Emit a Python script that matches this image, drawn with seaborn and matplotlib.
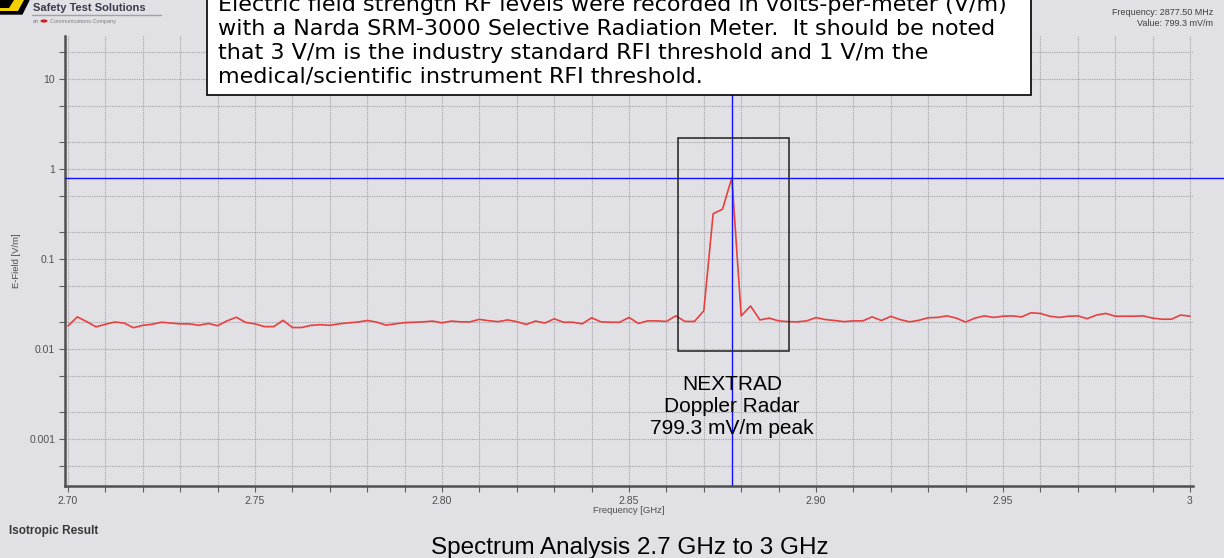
import matplotlib
matplotlib.use("Agg")
import matplotlib.pyplot as plt
import numpy as np
import pandas as pd
import seaborn as sns
from matplotlib.patches import Circle, Polygon, Rectangle
from matplotlib.ticker import FixedLocator, LogLocator, NullFormatter
from matplotlib.transforms import blended_transform_factory

# Sweep bins of the meter: 2700-3000 MHz, 2.5 MHz resolution (121 bins)
freq_ghz = np.arange(2700, 3000.1, 2.5) / 1000

# Isotropic E-field per bin [V/m]
efield_vm = [
    0.0180, 0.0227, 0.0201, 0.0176, 0.0188, 0.0199, 0.0194, 0.0172, 0.0183, 0.0188,
    0.0198, 0.0194, 0.0190, 0.0190, 0.0183, 0.0192, 0.0181, 0.0205, 0.0225, 0.0197,
    0.0190, 0.0177, 0.0177, 0.0208, 0.0173, 0.0173, 0.0183, 0.0186, 0.0183, 0.0190,
    0.0195, 0.0199, 0.0207, 0.0199, 0.0184, 0.0190, 0.0196, 0.0198, 0.0200, 0.0204,
    0.0195, 0.0204, 0.0200, 0.0200, 0.0213, 0.0206, 0.0201, 0.0210, 0.0201, 0.0187,
    0.0204, 0.0194, 0.0216, 0.0198, 0.0198, 0.0190, 0.0222, 0.0200, 0.0198, 0.0198,
    0.0224, 0.0192, 0.0205, 0.0205, 0.0202, 0.0233, 0.0202, 0.0202, 0.0265, 0.3180,
    0.3570, 0.7993, 0.0233, 0.0300, 0.0210, 0.0220, 0.0205, 0.0201, 0.0200, 0.0205,
    0.0223, 0.0212, 0.0207, 0.0201, 0.0205, 0.0205, 0.0227, 0.0207, 0.0230, 0.0212,
    0.0200, 0.0208, 0.0222, 0.0224, 0.0233, 0.0220, 0.0199, 0.0220, 0.0233, 0.0224,
    0.0231, 0.0233, 0.0227, 0.0252, 0.0248, 0.0231, 0.0224, 0.0231, 0.0233, 0.0217,
    0.0238, 0.0248, 0.0231, 0.0231, 0.0231, 0.0233, 0.0220, 0.0214, 0.0214, 0.0238,
    0.0231,
]

peak_freq_ghz = 2.8775
peak_value_vm = 0.7993

x_major = [2.70, 2.75, 2.80, 2.85, 2.90, 2.95, 3.00]
x_major_labels = ["2.70", "2.75", "2.80", "2.85", "2.90", "2.95", "3"]
x_minor = np.arange(2.70, 3.0001, 0.01)
y_major = [0.001, 0.01, 0.1, 1, 10]
y_major_labels = ["0.001", "0.01", "0.1", "1", "10"]

note_lines = [
    "Electric field strength RF levels were recorded in volts-per-meter (V/m)",
    "with a Narda SRM-3000 Selective Radiation Meter.  It should be noted",
    "that 3 V/m is the industry standard RFI threshold and 1 V/m the",
    "medical/scientific instrument RFI threshold.",
]
peak_note = ["NEXTRAD", "Doppler Radar", "799.3 mV/m peak"]
readout_lines = ["Frequency: 2877.50 MHz", "Value: 799.3 mV/m"]

BG = "#e0e0e5"
W, H = 1224, 558

sns.set_theme(style="white", rc={"figure.facecolor": BG, "axes.facecolor": BG})
plt.rcParams["font.family"] = ["Liberation Sans", "DejaVu Sans"]


def fx(px):
    return px / W


def fy(py):
    return 1 - py / H


fig = plt.figure(figsize=(W / 100, H / 100), dpi=100)
ax = fig.add_axes([fx(65), fy(486), fx(1128), 450 / H])

df = pd.DataFrame({"freq": freq_ghz, "efield": efield_vm})
sns.lineplot(data=df, x="freq", y="efield", ax=ax, color="#e8403f", lw=1.2, zorder=3)

ax.set_yscale("log")
ax.set_ylim(3e-4, 30)
ax.set_xlim(2.6992, 3.0008)

ax.xaxis.set_major_locator(FixedLocator(x_major))
ax.set_xticklabels(x_major_labels)
ax.xaxis.set_minor_locator(FixedLocator(x_minor))
ax.yaxis.set_major_locator(FixedLocator(y_major))
ax.set_yticklabels(y_major_labels)
ax.yaxis.set_minor_locator(LogLocator(base=10, subs=(2, 5)))
ax.yaxis.set_minor_formatter(NullFormatter())

ax.grid(which="both", color="#a4a4a8", ls=(0, (1, 1)), lw=0.8, zorder=1)
ax.tick_params(which="both", direction="out", length=4, width=0.8, color="#606060",
               labelsize=7.5, labelcolor="#505050", pad=3)
ax.tick_params(axis="x", which="both", bottom=True)
ax.tick_params(axis="y", which="both", left=True)

for side in ("top", "right"):
    ax.spines[side].set_visible(False)
for side in ("left", "bottom"):
    ax.spines[side].set_color("#505050")
    ax.spines[side].set_linewidth(1.8)

ax.set_xlabel("Frequency [GHz]", fontsize=6.8, color="#505050", labelpad=0)
ax.set_ylabel("E-Field [V/m]", fontsize=6.8, color="#505050", labelpad=6)

# cursor crosshair on the peak
ax.axvline(peak_freq_ghz, color="#1010ff", lw=1.0, zorder=4)
ax.axhline(peak_value_vm, xmin=0, xmax=(W - 65) / 1128, color="#1010ff", lw=1.0,
           zorder=4, clip_on=False)

# box around the radar emission
ax.add_patch(Rectangle((2.8631, 0.0095), 2.8928 - 2.8631, 2.21 - 0.0095,
                       fill=False, ec="#202020", lw=1.1, zorder=5))
label_tf = blended_transform_factory(ax.transData, fig.transFigure)
for i, line in enumerate(peak_note):
    ax.text(peak_freq_ghz, fy(384 + 22 * i), line, ha="center", va="center", fontsize=15,
            color="black", transform=label_tf, zorder=6)

# note box at the top
fig.add_artist(Rectangle((fx(207), fy(95)), fx(824), 120 / H, transform=fig.transFigure,
                         fc="white", ec="black", lw=1.2, zorder=10, clip_on=False))
for i, line in enumerate(note_lines):
    fig.text(fx(218), fy(11 + 24 * i), line, ha="left", va="baseline", fontsize=16,
             family=["DejaVu Sans"], color="black", zorder=11)

# readout at top right
for i, line in enumerate(readout_lines):
    fig.text(fx(1213), fy(15 + 11 * i), line, ha="right", va="baseline", fontsize=6.5,
             color="#404040")

# logo at top left
fig.add_artist(Polygon([(fx(0), fy(0)), (fx(29), fy(0)), (fx(22), fy(14)), (fx(0), fy(14))],
                       closed=True, fc="black", ec="black", transform=fig.transFigure))
fig.add_artist(Polygon([(fx(0), fy(0)), (fx(24), fy(0)), (fx(18), fy(11)), (fx(0), fy(11))],
                       closed=True, fc="#f4d000", ec="none", transform=fig.transFigure))
fig.add_artist(Polygon([(fx(0), fy(0)), (fx(14), fy(0)), (fx(9), fy(8)), (fx(0), fy(8))],
                       closed=True, fc="black", ec="none", transform=fig.transFigure))
fig.text(fx(33), fy(11), "Safety Test Solutions", ha="left", va="baseline", fontsize=8,
         weight="bold", color="#3a3a4a")
fig.add_artist(plt.Line2D([fx(32), fx(161)], [fy(15), fy(15)], color="#a0a0a8", lw=1,
                          transform=fig.transFigure))
fig.add_artist(Circle((fx(44), fy(21)), 3.5 / W, fc="#d02020", ec="none",
                      transform=fig.transFigure))
fig.text(fx(33), fy(23), "an", fontsize=4, color="#707070", ha="left", va="baseline")
fig.text(fx(50), fy(23), "Communications Company", fontsize=4, color="#808080",
         ha="left", va="baseline")

fig.text(fx(9), fy(534), "Isotropic Result", ha="left", va="baseline", fontsize=8.5,
         weight="bold", color="#383838")
fig.text(fx(630), fy(554), "Spectrum Analysis 2.7 GHz to 3 GHz", ha="center", va="baseline",
         fontsize=17.5, color="black")

fig.savefig("out.png", dpi=100, facecolor=BG)
